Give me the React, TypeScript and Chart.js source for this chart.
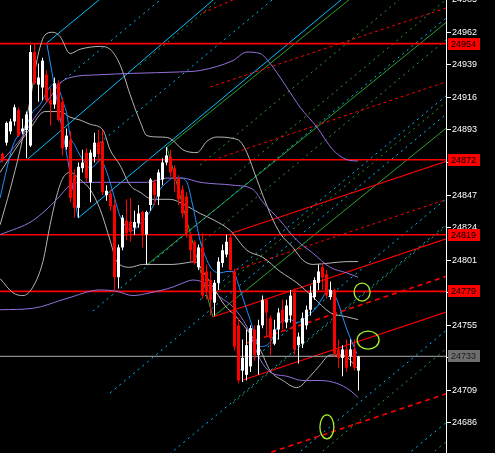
import React, { useEffect, useRef } from 'react';
import { Chart, registerables } from 'chart.js';

Chart.register(...registerables);

// ---- candles (one per bar) ----
const opens = [24876,24884,24892,24899,24907,24892,24893,24882,24948,24925,24923,24932,24914,24911,24926,24913,24881,24886,24861,24838,24866,24877,24856,24874,24884,24885,24847,24848,24840,24789,24810,24829,24828,24824,24827,24835,24819,24840,24856,24846,24858,24870,24874,24866,24859,24851,24846,24819,24814,24796,24810,24793,24787,24771,24785,24799,24805,24817,24793,24755,24723,24720,24726,24752,24734,24755,24773,24760,24742,24752,24766,24757,24762,24778,24741,24742,24755,24766,24775,24785,24796,24791,24775,24780,24738,24732,24738,24733,24738,24723];
const highs = [24877,24899,24901,24911,24909,24901,24906,24953,24954,24940,24944,24935,24923,24930,24928,24916,24894,24892,24865,24870,24879,24880,24879,24891,24893,24893,24854,24851,24844,24812,24833,24844,24845,24836,24840,24836,24836,24859,24858,24865,24873,24881,24879,24868,24861,24854,24849,24821,24815,24812,24820,24798,24793,24787,24803,24812,24819,24820,24795,24760,24745,24752,24755,24755,24759,24776,24774,24762,24759,24767,24773,24773,24780,24781,24750,24764,24769,24783,24789,24798,24799,24794,24786,24781,24745,24741,24745,24745,24745,24733];
const lows = [24870,24882,24890,24896,24888,24890,24873,24881,24925,24913,24914,24913,24896,24908,24899,24875,24879,24842,24831,24831,24863,24856,24842,24870,24870,24847,24843,24836,24780,24781,24808,24815,24814,24819,24824,24810,24798,24836,24840,24840,24854,24868,24860,24849,24840,24831,24817,24800,24798,24794,24774,24773,24762,24762,24780,24796,24803,24793,24737,24714,24715,24716,24722,24730,24720,24753,24748,24734,24741,24745,24752,24753,24757,24734,24728,24739,24752,24762,24773,24780,24780,24774,24773,24733,24725,24719,24722,24726,24723,24709];
const closes = [24872,24898,24899,24909,24889,24894,24904,24948,24926,24930,24942,24914,24911,24926,24900,24880,24889,24845,24838,24867,24870,24859,24877,24884,24876,24849,24850,24839,24789,24810,24831,24820,24821,24828,24834,24819,24835,24858,24847,24863,24870,24875,24863,24858,24844,24834,24820,24808,24799,24810,24776,24779,24773,24785,24800,24808,24814,24794,24740,24716,24732,24741,24753,24734,24755,24773,24764,24746,24752,24764,24757,24769,24776,24738,24747,24760,24766,24778,24787,24793,24789,24776,24780,24735,24732,24738,24725,24738,24725,24733];

// ---- price axis ----
const yTicks = [24985, 24962, 24939, 24916, 24893, 24870, 24847, 24824, 24801, 24778, 24755, 24732, 24709, 24686];
const levelPrices = [24954, 24872, 24819, 24779];
const lastPrice = 24733;

// ---- indicator curves: [bar index, price] ----
const fastMA = [[-0.6,24845],[1.1,24866],[2.6,24882],[6.1,24897],[7.6,24906],[9.4,24911],[11.1,24920],[12.6,24925],[13.9,24923],[15.1,24913],[16.1,24904],[16.9,24889],[18.1,24882],[19.4,24875],[20.6,24870],[21.9,24866],[23.1,24868],[24.4,24872],[26.1,24863],[27.6,24849],[29.4,24832],[31.1,24824],[32.6,24822],[34.4,24827],[36.1,24832],[37.6,24839],[39.4,24851],[41.1,24856],[42.6,24859],[44.4,24859],[46.1,24856],[47.6,24839],[49.4,24815],[51.1,24801],[52.6,24794],[54.4,24792],[56.1,24793],[57.6,24793],[59.4,24780],[61.9,24759],[64.4,24740],[66.9,24743],[69.4,24757],[71.9,24759],[73.6,24757],[76.1,24761],[78.6,24768],[80.1,24775],[81.4,24780],[82.4,24779],[83.6,24773],[86.1,24752],[88.6,24735]];
const slowUpper = [[-0.6,24870],[4.4,24886],[7.6,24900],[11.9,24916],[14.4,24926],[16.9,24930],[24.4,24932],[32.6,24933],[44.4,24934],[49.4,24935],[57.6,24942],[61.1,24948],[64.4,24947],[66.9,24940],[71.1,24923],[74.4,24909],[78.6,24895],[82.6,24879],[86.1,24872],[88.9,24871]];
const slowMid = [[-0.6,24819],[7.6,24829],[13.6,24844],[16.9,24854],[19.4,24856],[28.6,24856],[36.1,24856],[41.1,24859],[44.9,24859],[49.4,24856],[57.6,24854],[62.6,24851],[65.1,24842],[69.4,24829],[73.6,24815],[77.6,24806],[81.9,24796],[86.1,24792],[88.9,24789]];
const slowLower = [[-0.6,24766],[7.6,24767],[16.1,24774],[24.4,24780],[28.6,24779],[32.6,24776],[36.9,24778],[42.6,24782],[46.1,24786],[47.6,24787],[51.1,24784],[54.4,24775],[57.6,24768],[61.1,24754],[64.4,24731],[66.9,24722],[71.1,24719],[75.1,24716],[79.4,24716],[83.6,24714],[86.9,24709],[88.9,24704]];
const bandUpper = [[-0.6,24826],[1.9,24851],[4.4,24879],[6.9,24914],[8.9,24946],[10.6,24960],[12.6,24962],[14.4,24959],[16.9,24947],[19.4,24950],[24.4,24952],[26.9,24950],[29.4,24939],[31.9,24918],[34.4,24899],[36.1,24889],[39.4,24888],[41.9,24887],[45.1,24879],[48.6,24877],[51.1,24885],[53.6,24888],[57.6,24887],[59.4,24885],[61.1,24877],[63.6,24858],[66.9,24834],[69.4,24820],[72.6,24810],[75.1,24801],[77.6,24798],[81.9,24799],[86.1,24800],[88.9,24800]];
const bandMid = [[-0.6,24863],[3.1,24879],[6.9,24894],[10.6,24906],[14.4,24906],[16.9,24902],[19.4,24900],[21.9,24897],[25.1,24893],[26.9,24879],[29.4,24868],[31.9,24854],[34.4,24849],[37.6,24844],[41.9,24844],[45.6,24840],[49.4,24834],[53.1,24829],[56.9,24822],[61.1,24808],[65.1,24803],[69.4,24793],[73.6,24785],[77.6,24775],[81.9,24764],[86.1,24761],[88.9,24759]];
const bandLower = [[-0.6,24788],[2.6,24778],[5.1,24776],[7.6,24782],[10.1,24800],[11.9,24826],[13.6,24847],[15.1,24859],[16.9,24863],[19.4,24858],[21.9,24851],[24.4,24837],[26.9,24815],[28.6,24800],[31.9,24796],[35.1,24798],[38.6,24798],[42.6,24798],[45.6,24799],[48.1,24800],[50.6,24791],[53.1,24780],[55.6,24769],[58.1,24762],[61.1,24752],[64.4,24738],[66.9,24723],[70.1,24716],[73.6,24711],[76.9,24719],[79.4,24727],[81.9,24734],[85.1,24734],[88.6,24725]];

// ---- drawn objects: [x1, price1, x2, price2] ----
const cyanSolidLines = [[11.05,24954.4,25.6,24988.3],[6.05,24871.8,54.1,24988.3],[18.9,24830.8,86.1,24988.3]];
const cyanDashedLines = [[40.6,24661.3,111.9,24828.4],[73.4,24663.4,111.9,24753.7],[101.1,24663.4,111.9,24688.6],[26.9,24707.2,111.9,24906.5],[22.6,24765.1,111.9,24974.4],[14.4,24926.2,40.9,24988.3],[23.1,24881.0,68.9,24988.3],[49.4,24772.9,111.9,24919.5],[59.4,24723.4,111.9,24846.6]];
const greenSolidLines = [[41.1,24881.0,88.1,24988.3],[52.6,24760.9,111.9,24896.5],[36.05,24797.6,111.9,24971.2]];
const greenDashedLines = [[78.9,24663.4,111.9,24740.8],[106.9,24663.4,111.9,24675.1],[57.6,24700.1,111.9,24827.3],[51.9,24774.3,111.9,24915.0],[56.9,24858.4,111.9,24987.3],[34.4,24938.9,54.4,24985.8],[49.4,24868.2,99.4,24985.5],[49.4,24812.4,111.9,24959.0]];
const redSolidLines = [[57.4,24820.2,111.9,24871.8],[60.1,24716.4,111.9,24765.3],[52.6,24760.9,111.9,24817.0]];
const redDashedLines = [[51.9,24923.3,111.9,24980.1],[52.6,24871.8,111.9,24927.9],[56.9,24792.7,111.9,24844.7],[50.1,24975.6,58.1,24985.5]];
const redBoldDashedLines = [[61.1,24742.5,111.9,24790.5],[65.1,24663.4,111.9,24707.6]];
const zigzagBlue = [[11.05,24954.4,18.9,24830.8]];
const zigzagGreen = [[41.1,24881.0,52.6,24760.9]];
const ellipseCenters = [[89.9,24778.5],[91.4,24744.6],[81.1,24683.2]];

// ---- styles ----
const ellipseRadii = [[8, 9], [11, 9], [7, 12]];
const BULL = '#ffffff';
const BEAR = '#ff0000';
const FONT = "'Liberation Sans', Arial, sans-serif";

const toPts = (arr: number[][]) => arr.map(([x, y]) => ({ x, y }));
const seg = (l: number[]) => [{ x: l[0], y: l[1] }, { x: l[2], y: l[3] }];

function lineDs(data: any[], color: string, width: number, dash: number[], order: number, smooth = false) {
  return {
    type: 'line' as const,
    data,
    borderColor: color,
    borderWidth: width,
    borderDash: dash,
    pointRadius: 0,
    fill: false,
    tension: smooth ? 0.4 : 0,
    cubicInterpolationMode: smooth ? 'monotone' : 'default',
    order,
  };
}

const overlayPlugin = {
  id: 'mtOverlay',
  beforeDraw(chart: any) {
    const { ctx, width, height } = chart;
    ctx.save();
    ctx.fillStyle = '#000000';
    ctx.fillRect(0, 0, width, height);
    ctx.restore();
  },
  afterDatasetsDraw(chart: any) {
    const { ctx, chartArea } = chart;
    const xs = chart.scales.x;
    const ys = chart.scales.y;
    ctx.save();
    ctx.beginPath();
    ctx.rect(chartArea.left, chartArea.top, chartArea.right - chartArea.left, chartArea.bottom - chartArea.top);
    ctx.clip();
    ctx.strokeStyle = '#a8f02c';
    ctx.lineWidth = 1.3;
    ellipseCenters.forEach(([ix, p], k) => {
      const [rx, ry] = ellipseRadii[k];
      ctx.beginPath();
      ctx.ellipse(xs.getPixelForValue(ix), ys.getPixelForValue(p), rx, ry, 0, 0, Math.PI * 2);
      ctx.stroke();
    });
    ctx.restore();
  },
  afterDraw(chart: any) {
    const { ctx, chartArea } = chart;
    const ys = chart.scales.y;
    const left = chartArea.right + 2;
    ctx.save();
    ctx.font = `9px ${FONT}`;
    ctx.textBaseline = 'middle';
    ctx.textAlign = 'left';
    const box = (v: number, bg: string, fg: string) => {
      const y = Math.round(ys.getPixelForValue(v));
      ctx.fillStyle = bg;
      ctx.fillRect(left, y - 6, 32, 12);
      ctx.fillStyle = fg;
      ctx.fillText(String(v), left + 3, y + 0.5);
    };
    levelPrices.forEach((v) => box(v, '#ff0000', '#000000'));
    box(lastPrice, '#6e6e6e', '#1c1c1c');
    ctx.restore();
  },
};

export default function App() {
  const ref = useRef<HTMLCanvasElement>(null);

  useEffect(() => {
    document.body.style.margin = '0';
    document.body.style.background = '#000';
    const idx = opens.map((_, i) => i);
    const colors = idx.map((i) => (closes[i] >= opens[i] ? BULL : BEAR));

    const datasets: any[] = [];
    // candles
    datasets.push({
      type: 'bar',
      data: idx.map((i) => ({ x: i, y: [opens[i], closes[i]] })),
      backgroundColor: colors,
      borderWidth: 0,
      barThickness: 3,
      grouped: false,
      inflateAmount: 0,
      minBarLength: 1,
      order: 0,
    });
    datasets.push({
      type: 'bar',
      data: idx.map((i) => ({ x: i, y: [lows[i], highs[i]] })),
      backgroundColor: colors,
      borderWidth: 0,
      barThickness: 1,
      grouped: false,
      inflateAmount: 0,
      order: 1,
    });

    // indicators
    datasets.push(lineDs(toPts(fastMA), '#1e90ff', 1, [], 2, true));
    datasets.push(lineDs(toPts(slowUpper), '#9370db', 1, [], 3, true));
    datasets.push(lineDs(toPts(slowMid), '#9370db', 1, [], 3, true));
    datasets.push(lineDs(toPts(slowLower), '#9370db', 1, [], 3, true));
    datasets.push(lineDs(toPts(bandUpper), '#b4b4b4', 1, [], 3, true));
    datasets.push(lineDs(toPts(bandMid), '#b4b4b4', 1, [], 3, true));
    datasets.push(lineDs(toPts(bandLower), '#b4b4b4', 1, [], 3, true));

    // objects
    const xL = -1;
    const xR = 112;
    levelPrices.forEach((p) => datasets.push(lineDs([{ x: xL, y: p }, { x: xR, y: p }], '#ff0000', 1.6, [], 4)));
    datasets.push(lineDs([{ x: xL, y: lastPrice }, { x: xR, y: lastPrice }], '#8a8a8a', 1.3, [], 4));
    redSolidLines.forEach((l) => datasets.push(lineDs(seg(l), '#ff0000', 1.2, [], 5)));
    redDashedLines.forEach((l) => datasets.push(lineDs(seg(l), '#ff0000', 1, [3, 3], 5)));
    redBoldDashedLines.forEach((l) => datasets.push(lineDs(seg(l), '#ff0000', 1.6, [5, 4], 5)));
    cyanSolidLines.forEach((l) => datasets.push(lineDs(seg(l), '#00bfff', 1, [], 6)));
    cyanDashedLines.forEach((l) => datasets.push(lineDs(seg(l), '#00bfff', 1, [2, 4], 6)));
    greenSolidLines.forEach((l) => datasets.push(lineDs(seg(l), '#2e9e2e', 1, [], 6)));
    greenDashedLines.forEach((l) => datasets.push(lineDs(seg(l), '#2e9e2e', 1, [2, 4], 6)));
    zigzagBlue.forEach((l) => datasets.push(lineDs(seg(l), '#1e90ff', 1, [], 6)));
    zigzagGreen.forEach((l) => datasets.push(lineDs(seg(l), '#2e9e2e', 1, [], 6)));

    const chart = new Chart(ref.current as HTMLCanvasElement, {
      type: 'bar',
      data: { datasets },
      plugins: [overlayPlugin],
      options: {
        responsive: false,
        devicePixelRatio: 1,
        animation: false,
        events: [],
        layout: { padding: 0 },
        plugins: { legend: { display: false }, tooltip: { enabled: false } },
        scales: {
          x: {
            type: 'linear',
            min: -0.625,
            max: 110.875,
            offset: false,
            display: false,
          },
          y: {
            type: 'linear',
            position: 'right',
            min: 24664.8,
            max: 24984.8,
            afterBuildTicks: (s: any) => {
              s.ticks = yTicks.map((v) => ({ value: v }));
            },
            afterFit: (s: any) => {
              s.width = 49;
              s.paddingTop = 0;
              s.paddingBottom = 0;
            },
            grid: { drawOnChartArea: false, drawTicks: true, tickLength: 5, color: '#ffffff', lineWidth: 1 },
            border: { display: true, color: '#ffffff', width: 1 },
            ticks: {
              color: '#ffffff',
              font: { family: FONT, size: 9 },
              padding: 1,
              autoSkip: false,
              maxRotation: 0,
              callback: (v: any) => String(v),
            },
          },
        },
      } as any,
    });
    return () => chart.destroy();
  }, []);

  return (
    <canvas ref={ref} width={495} height={453} style={{ display: 'block', width: 495, height: 453 }} />
  );
}
